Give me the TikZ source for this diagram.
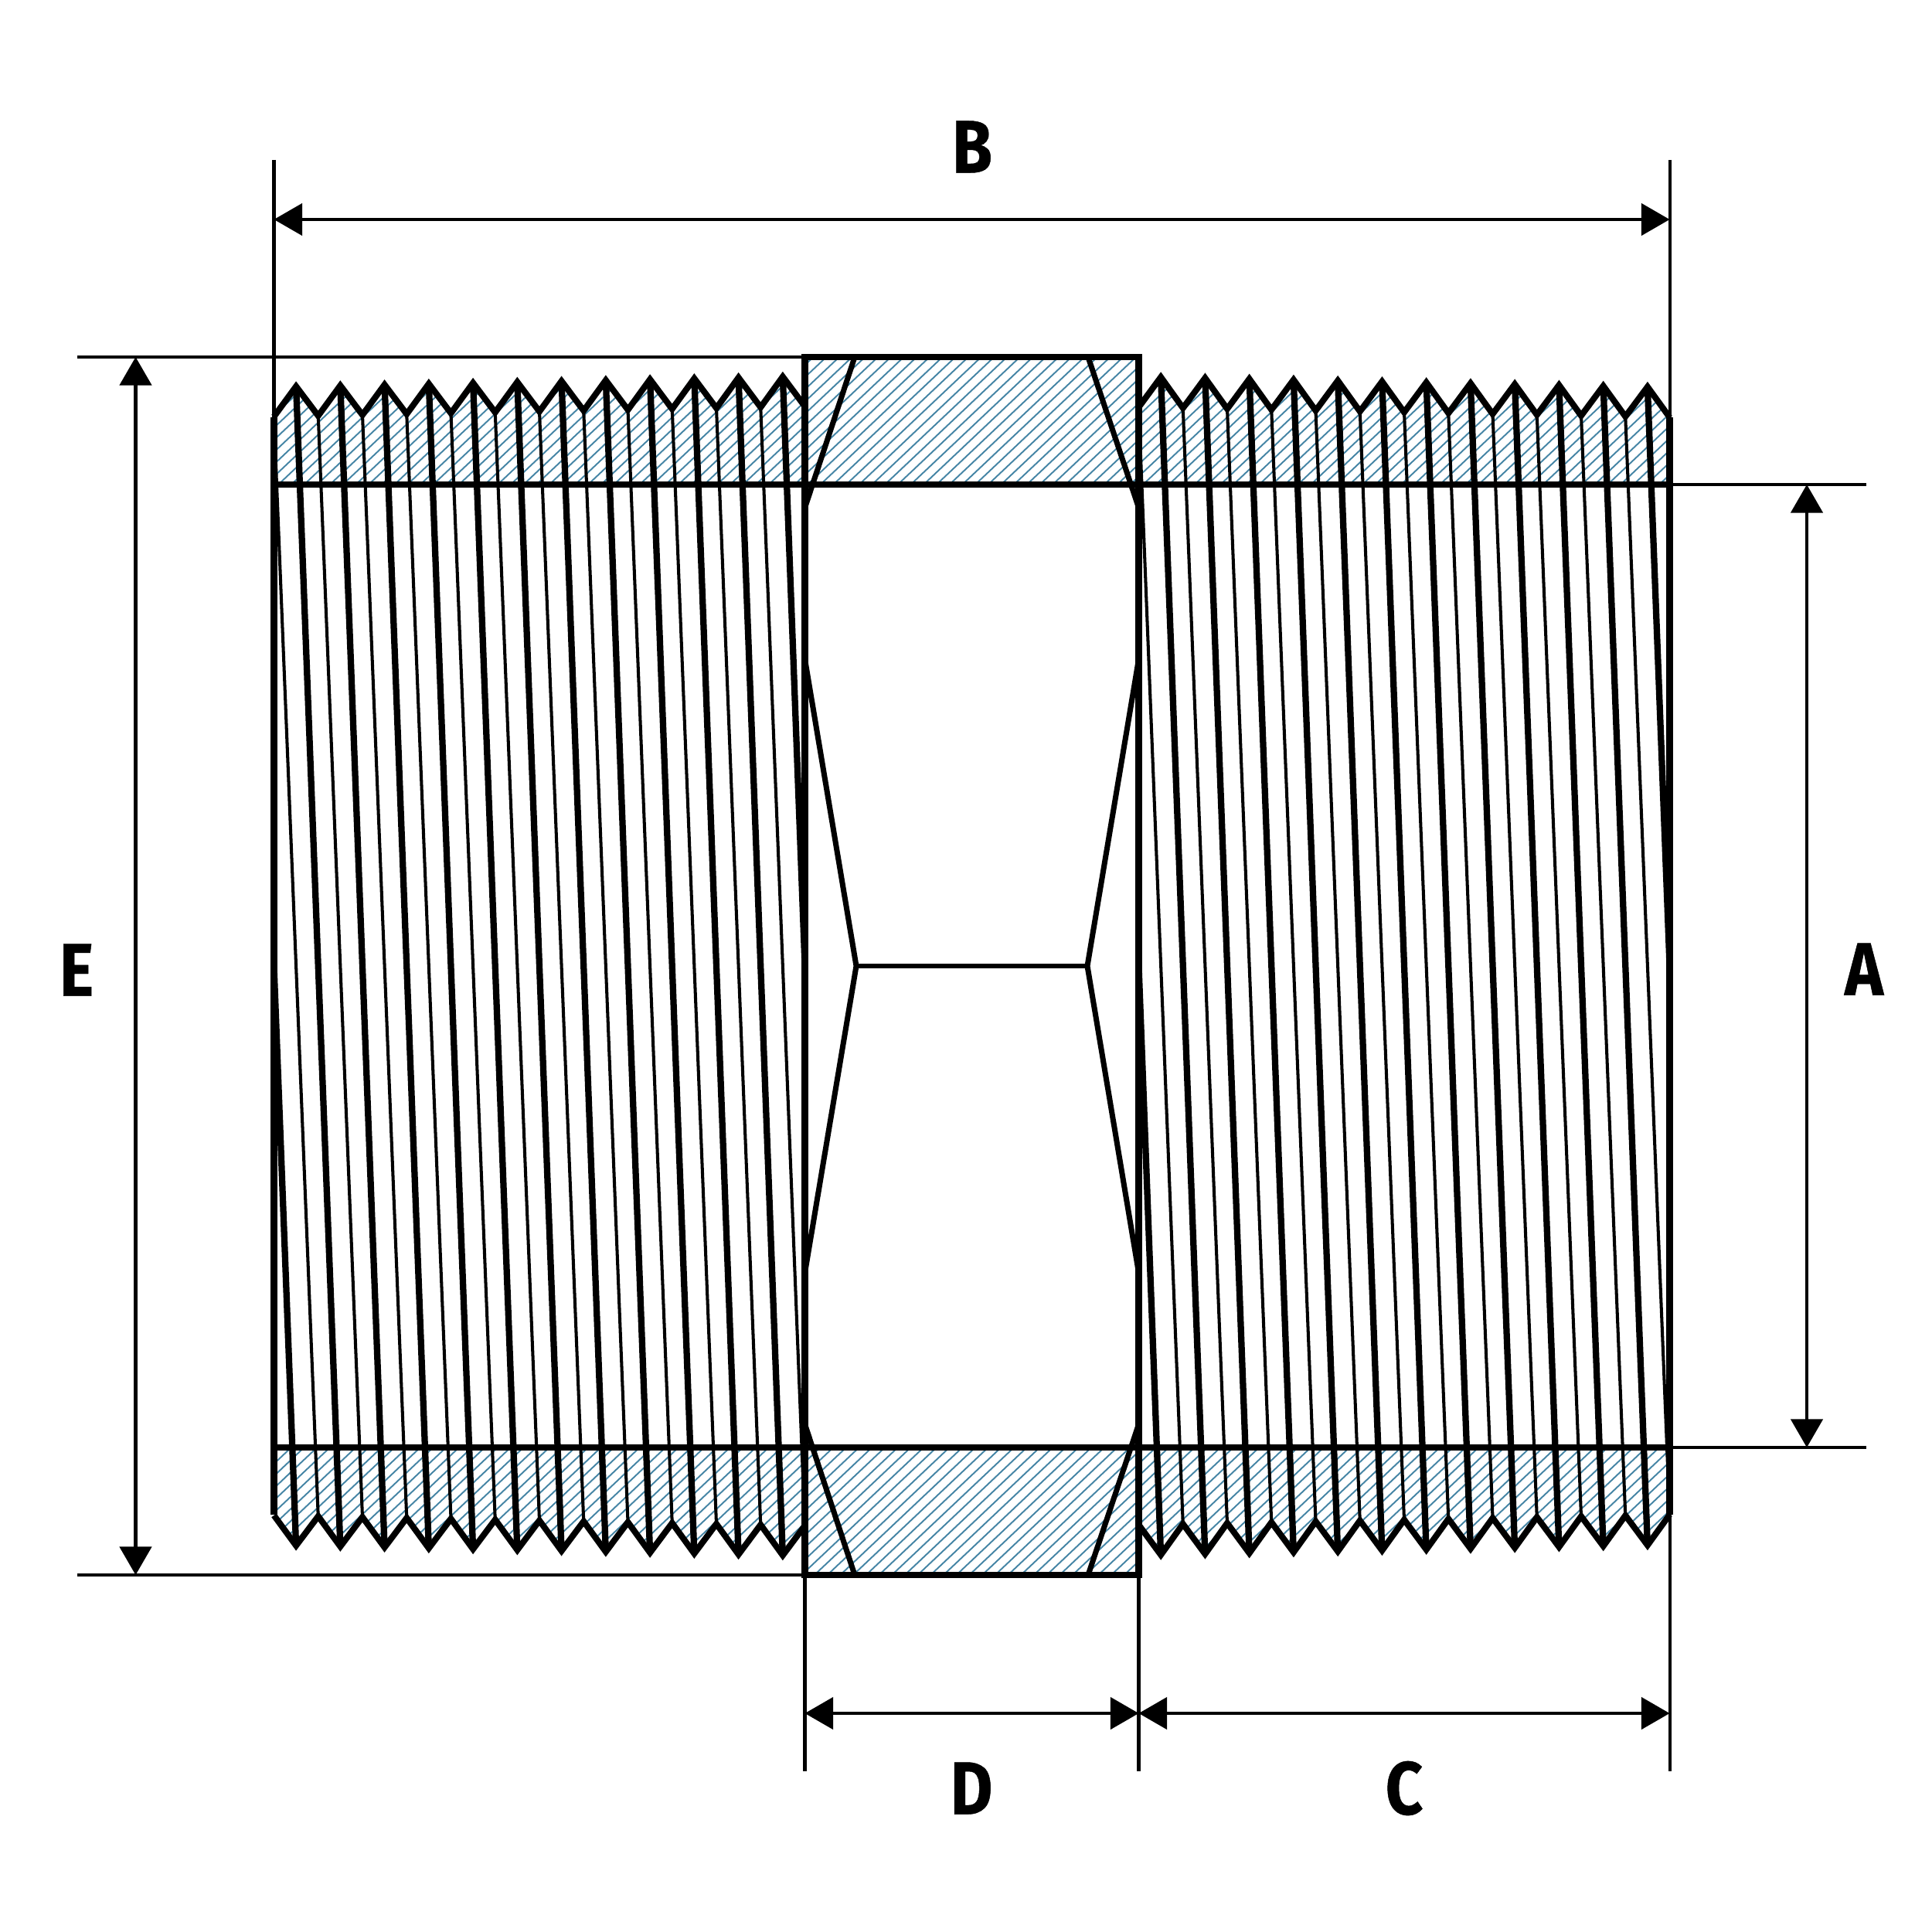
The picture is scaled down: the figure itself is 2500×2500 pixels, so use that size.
\documentclass[tikz,border=0pt]{standalone}
\usepackage{fontspec}
\setsansfont{Fira Sans}[FakeStretch=0.87,FakeBold=0.5]
\usetikzlibrary{arrows.meta}
\definecolor{HatchBlue}{HTML}{4585A5}

% One unit is one pixel of the 2500 wide picture
% #1 start x, #2 crest y, #3 drift of the thread, #4 root y, #5 flip (1 top, -1 bottom)
\newcommand{\ZigPath}[5]{%
  (#1,{1250+#5*(#4-#3*1.1-1250)})
  \foreach \k [evaluate=\k as \Xc using #1+57.25*(\k+0.5),
               evaluate=\k as \Yc using 1250+#5*(#2+#3*1.14*\k-1250),
               evaluate=\k as \Xr using #1+57.25*(\k+1),
               evaluate=\k as \Yr using 1250+#5*(#4+#3*1.1*\k-1250)] in {0,...,11}
    { -- (\Xc,\Yc) -- (\Xr,\Yr) }
}
% Helix lines: top crest k to bottom crest k+1, top root k to bottom root k+1
\newcommand{\HelixLines}[4]{%
  \foreach \k [evaluate=\k as \Xa using #1+57.25*(\k+0.5),
               evaluate=\k as \Ya using #2+#3*1.14*\k,
               evaluate=\k as \Xb using #1+57.25*(\k+1.5),
               evaluate=\k as \Yb using 2500-(#2+#3*1.14*(\k+1))] in {0,...,10}
    \draw[ThickThread] (\Xa,\Ya) -- (\Xb,\Yb);
  \foreach \k [evaluate=\k as \Xa using #1+57.25*(\k+1),
               evaluate=\k as \Ya using #4+#3*1.1*\k,
               evaluate=\k as \Xb using #1+57.25*(\k+2),
               evaluate=\k as \Yb using 2500-(#4+#3*1.1*(\k+1))] in {-1,0,...,10}
    \draw[ThinThread] (\Xa,\Ya) -- (\Xb,\Yb);
  % the two ends of the helix stop on the walls
  \draw[ThickThread] (#1,1250) -- ({#1+57.25*0.5},{2500-#2});
  \draw[ThickThread] ({#1+57.25*11.5},{#2+#3*1.14*11}) -- ({#1+57.25*12},1250);
}

\begin{document}
\begin{tikzpicture}[
    x=0.01cm,y=-0.01cm,
    line join=miter,
    % Environment Config
    DimLine/.style={% Style for the dimension arrows
      {Triangle[length=10.4pt,width=11.7pt]}-{Triangle[length=10.4pt,width=11.7pt]},
      line width=1.15pt
    },
    ExtLine/.style={line width=1.15pt},
    WallLine/.style={line width=2.5pt},
    ZigLine/.style={line width=2.25pt},
    ThickThread/.style={line width=2.35pt},
    ThinThread/.style={line width=1.15pt},
    HexLine/.style={line width=2pt},
    Hatch/.style={HatchBlue,line width=0.55pt},
    DimLabel/.style={font=\sffamily\bfseries\fontsize{27.5}{27.5}\selectfont,inner sep=0pt}
  ]
  \useasboundingbox (0,0) rectangle (2500,2500);
  \fill[white] (0,0) rectangle (2500,2500);

  % Reference points
  \coordinate (HexTL) at (1041.5,462);
  \coordinate (HexTR) at (1473.5,462);
  \coordinate (HexBL) at (1041.5,2038);
  \coordinate (HexBR) at (1473.5,2038);
  \coordinate (BoreTL) at (354.5,627);
  \coordinate (BoreTR) at (2160.5,627);
  \coordinate (BoreBL) at (354.5,1873);
  \coordinate (BoreBR) at (2160.5,1873);
  \coordinate (WallTL) at (354.5,540);
  \coordinate (WallBL) at (354.5,1960);
  \coordinate (WallTR) at (2160.5,540);
  \coordinate (WallBR) at (2160.5,1960);

  %===Hatching===
  \begin{scope}
    \clip (BoreTL) -- \ZigPath{354.5}{500}{-1}{538}{1} -- (HexTL) -- (HexTR)
      -- \ZigPath{1473.5}{488}{1}{528}{1} -- (BoreTR) -- cycle
      (BoreBL) -- \ZigPath{354.5}{500}{-1}{538}{-1} -- (HexBL) -- (HexBR)
      -- \ZigPath{1473.5}{488}{1}{528}{-1} -- (BoreBR) -- cycle;
    \foreach \c in {-1450,-1433.3,...,2200}
      \draw[Hatch] (\c,2100) -- ++(1800,-1700);
  \end{scope}

  %===Threads===
  \HelixLines{354.5}{500}{-1}{538}
  \HelixLines{1473.5}{488}{1}{528}
  \draw[ZigLine] \ZigPath{354.5}{500}{-1}{538}{1};
  \draw[ZigLine] \ZigPath{354.5}{500}{-1}{538}{-1};
  \draw[ZigLine] \ZigPath{1473.5}{488}{1}{528}{1};
  \draw[ZigLine] \ZigPath{1473.5}{488}{1}{528}{-1};

  %===Walls and bore===
  \draw[WallLine] (WallTL) -- (WallBL);
  \draw[WallLine] (WallTR) -- (WallBR);
  \draw[WallLine] (BoreTL) -- (BoreTR);
  \draw[WallLine] (BoreBL) -- (BoreBR);

  %===Hexagon===
  \draw[WallLine] (HexTL) rectangle (HexBR);
  \draw[HexLine] (1106,462) -- (1041.5,657);
  \draw[HexLine] (1408,462) -- (1473.5,657);
  \draw[HexLine] (1106,2038) -- (1041.5,1843);
  \draw[HexLine] (1408,2038) -- (1473.5,1843);
  \draw[HexLine] (1041.5,853) -- (1108,1250) -- (1041.5,1647);
  \draw[HexLine] (1473.5,853) -- (1407,1250) -- (1473.5,1647);
  \draw[HexLine,line width=1.5pt] (1108,1250) -- (1407,1250);

  %===Extension lines===
  \coordinate (ExtTop) at (100,462);
  \coordinate (ExtBot) at (100,2038);
  \coordinate (ExtA) at (2415,627);
  \coordinate (ExtB) at (2415,1873);
  \coordinate (ExtL) at (354.5,207);
  \coordinate (ExtR) at (2160.5,207);
  \coordinate (ExtHL) at (1041.5,2292);
  \coordinate (ExtHR) at (1473.5,2292);
  \coordinate (ExtRB) at (2160.5,2292);
  \draw[ExtLine] (ExtTop) -- (HexTL);
  \draw[ExtLine] (ExtBot) -- (HexBL);
  \draw[ExtLine] (BoreTR) -- (ExtA);
  \draw[ExtLine] (BoreBR) -- (ExtB);
  \draw[ExtLine] (ExtL) -- (WallTL);
  \draw[ExtLine] (ExtR) -- (WallTR);
  \draw[ExtLine] (WallBR) -- (ExtRB);
  \draw[ExtLine] (HexBL) -- (ExtHL);
  \draw[ExtLine] (HexBR) -- (ExtHR);

  %===Dimensions===
  \coordinate (DimBa) at (354.5,284);
  \coordinate (DimBb) at (2160.5,284);
  \coordinate (DimEa) at (175.5,462);
  \coordinate (DimEb) at (175.5,2038);
  \coordinate (DimAa) at (2338,627);
  \coordinate (DimAb) at (2338,1873);
  \coordinate (DimDa) at (1041.5,2217);
  \coordinate (DimDb) at (1473.5,2217);
  \coordinate (DimCb) at (2160.5,2217);
  \draw[DimLine] (DimBa) -- (DimBb);
  \draw[DimLine] (DimEa) -- (DimEb);
  \draw[DimLine] (DimAa) -- (DimAb);
  \draw[DimLine] (DimDa) -- (DimDb);
  \draw[DimLine] (DimDb) -- (DimCb);

  %===Labels===
  \node[DimLabel] (LabelB) at (1258,190) {B};
  \node[DimLabel] (LabelE) at (99,1255) {E};
  \node[DimLabel] (LabelA) at (2412,1254) {A};
  \node[DimLabel] (LabelD) at (1257,2314) {D};
  \node[DimLabel] (LabelC) at (1817,2314) {C};
\end{tikzpicture}
\end{document}
